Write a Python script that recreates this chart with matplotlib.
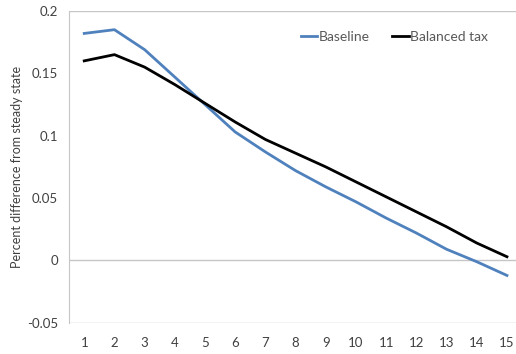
import matplotlib.pyplot as plt

periods = list(range(1, 16))
baseline = [0.182, 0.185, 0.169, 0.147, 0.125, 0.103, 0.087, 0.072,
            0.059, 0.047, 0.034, 0.022, 0.009, -0.001, -0.012]
balanced_tax = [0.160, 0.165, 0.155, 0.141, 0.126, 0.111, 0.097, 0.086,
                0.075, 0.063, 0.051, 0.039, 0.027, 0.014, 0.003]

plt.rcParams["font.family"] = ["Lato", "DejaVu Sans"]

fig = plt.figure(figsize=(5.16, 3.54), dpi=100)
ax = fig.add_axes([0.134, 0.088, 0.866, 0.881])

grid_color = "#c6c6c6"
text_color = "#404040"

# horizontal reference lines (top border, zero axis, bottom border)
for y in (0.2, 0.0, -0.05):
    ax.axhline(y, color=grid_color, lw=1.0, zorder=1)

ax.plot(periods, baseline, color="#4f81bd", lw=2.0, label="Baseline", zorder=3)
ax.plot(periods, balanced_tax, color="black", lw=2.0, label="Balanced tax", zorder=3)

ax.set_xlim(0.5, 15.3)
ax.set_ylim(-0.05, 0.2)
ax.set_xticks(periods)
ax.set_yticks([-0.05, 0, 0.05, 0.1, 0.15, 0.2])
ax.set_yticklabels(["-0.05", "0", "0.05", "0.1", "0.15", "0.2"])

for s in ("top", "right", "bottom"):
    ax.spines[s].set_visible(False)
ax.spines["left"].set_color(grid_color)
ax.tick_params(length=0, labelsize=9.5, colors=text_color, pad=8)
ax.tick_params(axis="x", pad=10)

ax.set_ylabel("Percent difference from steady state", fontsize=9, color=text_color, labelpad=3)

leg = ax.legend(loc="upper right", bbox_to_anchor=(0.965, 0.975), ncol=2, frameon=False,
                fontsize=10, handlelength=1.2, handletextpad=0.1, columnspacing=1.6)
for t in leg.get_texts():
    t.set_color("#595959")

fig.savefig("out.png", dpi=100)
